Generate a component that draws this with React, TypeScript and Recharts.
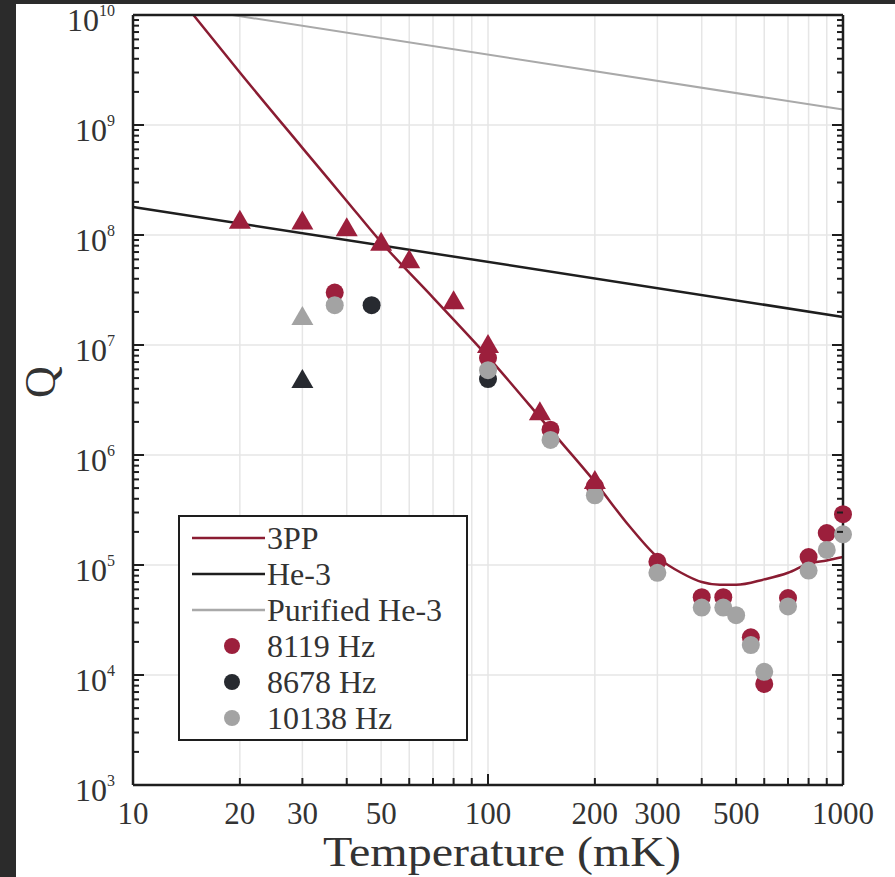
import {
  CartesianGrid,
  ComposedChart,
  Line,
  ReferenceLine,
  Scatter,
  XAxis,
  YAxis
} from 'recharts'

// --- data (temperature in mK, quality factor Q) ---
const PP3_T = [14.8, 20, 30, 40, 50, 70, 100, 150, 200, 250, 300, 350, 400, 450, 500, 600, 700, 800, 900, 1000]
const PP3_Q = [1e10, 3.0e9, 6.2e8, 2.04e8, 8.6e7, 2.7e7, 7.8e6, 1.69e6, 5.7e5, 2.26e5, 1.18e5, 8.5e4, 7.0e4, 6.6e4, 6.6e4, 7.4e4, 8.5e4, 1.03e5, 1.1e5, 1.18e5]

const HE3_T = [10, 1000]
const HE3_Q = [1.8e8, 1.8e7]

const PURE_T = [19.05, 1000]
const PURE_Q = [1e10, 1.38e9]

const F8119_T = [37, 100, 150, 200, 300, 400, 460, 550, 600, 700, 800, 900, 1000]
const F8119_Q = [3.0e7, 7.6e6, 1.7e6, 5.2e5, 1.07e5, 5.1e4, 5.1e4, 2.2e4, 8.3e3, 5.0e4, 1.18e5, 1.95e5, 2.9e5]

const F8678_T = [47, 100]
const F8678_Q = [2.3e7, 4.9e6]

const F10138_T = [37, 100, 150, 200, 300, 400, 460, 500, 550, 600, 700, 800, 900, 1000]
const F10138_Q = [2.3e7, 5.9e6, 1.37e6, 4.3e5, 8.5e4, 4.1e4, 4.1e4, 3.5e4, 1.87e4, 1.07e4, 4.2e4, 8.9e4, 1.37e5, 1.9e5]

const TRI_RED_T = [20, 30, 40, 50, 60, 80, 100, 140, 200]
const TRI_RED_Q = [1.35e8, 1.33e8, 1.15e8, 8.5e7, 5.9e7, 2.5e7, 1.0e7, 2.45e6, 5.8e5]
const TRI_DARK_T = [30]
const TRI_DARK_Q = [4.8e6]
const TRI_GRAY_T = [30]
const TRI_GRAY_Q = [1.8e7]

// --- axes ---
const X_TICKS = [10, 20, 30, 40, 50, 60, 70, 80, 90, 100, 200, 300, 400, 500, 600, 700, 800, 900, 1000]
const X_LABELS = [10, 20, 30, 50, 100, 200, 300, 500, 1000]
const Y_EXPONENTS = [3, 4, 5, 6, 7, 8, 9, 10]
const Y_TICKS = Y_EXPONENTS.flatMap((e) =>
  e === 10 ? [1e10] : [1, 2, 3, 4, 5, 6, 7, 8, 9].map((m) => m * 10 ** e)
)
const Y_GRID = [1e4, 1e5, 1e6, 1e7, 1e8, 1e9]

const pts = (t: number[], q: number[]) => t.map((v, i) => ({ t: v, q: q[i] }))

const RED = '#9c1f3c'
const RED_LINE = '#8a1c32'
const DARK = '#272a30'
const GRAY = '#a3a3a3'
const INK = '#1e1e1e'
const FONT = '"Liberation Serif", "Times New Roman", serif'

const isDecade = (v: number) => Math.abs(Math.log10(v) - Math.round(Math.log10(v))) < 1e-9

function BottomTick({ x, y, payload }: any) {
  const v = payload.value
  return (
    <g>
      <line x1={x} x2={x} y1={y} y2={y - (isDecade(v) ? 11 : 7)} stroke={INK} strokeWidth={2} />
      {X_LABELS.includes(v) && (
        <text x={x} y={y + 39} textAnchor="middle" fontSize={31} fontFamily={FONT} fill="#333">
          {v}
        </text>
      )}
    </g>
  )
}

function TopTick({ x, y, payload }: any) {
  return <line x1={x} x2={x} y1={y} y2={y + (isDecade(payload.value) ? 11 : 7)} stroke={INK} strokeWidth={2} />
}

function LeftTick({ x, y, payload }: any) {
  const v = payload.value
  const major = isDecade(v)
  return (
    <g>
      <line x1={x} x2={x + (major ? 11 : 6)} y1={y} y2={y} stroke={INK} strokeWidth={2} />
      {major && (
        <text x={x - 18} y={y + 16} textAnchor="end" fontSize={32} fontFamily={FONT} fill="#333">
          10
          <tspan dy={-15} fontSize={16}>
            {Math.round(Math.log10(v))}
          </tspan>
        </text>
      )}
    </g>
  )
}

function RightTick({ x, y, payload }: any) {
  return <line x1={x} x2={x - (isDecade(payload.value) ? 11 : 6)} y1={y} y2={y} stroke={INK} strokeWidth={2} />
}

const circle = (fill: string) => (p: any) => <circle cx={p.cx} cy={p.cy} r={9} fill={fill} />
const triangle = (fill: string) => (p: any) => (
  <path d={`M${p.cx},${p.cy - 11} L${p.cx - 11},${p.cy + 8} L${p.cx + 11},${p.cy + 8} Z`} fill={fill} />
)

const LEGEND = [
  { label: '3PP', kind: 'line', color: RED_LINE },
  { label: 'He-3', kind: 'line', color: INK },
  { label: 'Purified He-3', kind: 'line', color: '#a9a9a9' },
  { label: '8119 Hz', kind: 'dot', color: RED },
  { label: '8678 Hz', kind: 'dot', color: DARK },
  { label: '10138 Hz', kind: 'dot', color: GRAY }
]

function LegendBox() {
  return (
    <div
      style={{
        position: 'absolute',
        left: 178,
        top: 515,
        width: 290,
        height: 226,
        boxSizing: 'border-box',
        border: `2px solid ${INK}`,
        background: '#fff',
        fontFamily: FONT
      }}
    >
      {LEGEND.map((item, i) => (
        <div
          key={item.label}
          style={{ position: 'absolute', left: 0, top: 3 + 36 * i, height: 36, width: '100%' }}
        >
          <svg width={86} height={36} style={{ position: 'absolute', left: 0, top: 0 }}>
            {item.kind === 'line' ? (
              <line x1={12} x2={85} y1={18} y2={18} stroke={item.color} strokeWidth={2.5} />
            ) : (
              <circle cx={52} cy={18} r={8} fill={item.color} />
            )}
          </svg>
          <span
            style={{
              position: 'absolute',
              left: 87,
              top: 0,
              lineHeight: '36px',
              fontSize: 32,
              color: '#333',
              whiteSpace: 'nowrap'
            }}
          >
            {item.label}
          </span>
        </div>
      ))}
    </div>
  )
}

export default function App() {
  return (
    <div style={{ position: 'absolute', left: 0, top: 0, width: 895, height: 877, background: '#2b2b2b', overflow: 'hidden' }}>
      <div style={{ position: 'absolute', left: 16, top: 4, right: 0, bottom: 0, background: '#fff' }} />
      <div style={{ position: 'absolute', left: 0, top: 0 }}>
        <ComposedChart width={895} height={877} margin={{ top: 13, right: 50, bottom: 12, left: 20 }}>
          <CartesianGrid horizontal={false} stroke="#e6e6e6" strokeWidth={1.5} />
          {Y_GRID.map((v) => (
            <ReferenceLine key={v} y={v} stroke="#e6e6e6" strokeWidth={1.5} />
          ))}
          <XAxis
            dataKey="t"
            type="number"
            scale="log"
            domain={[10, 1000]}
            ticks={X_TICKS}
            interval={0}
            tickSize={0}
            tickMargin={0}
            tickLine={false}
            tick={(p: any) => <BottomTick {...p} />}
            axisLine={{ stroke: INK, strokeWidth: 2.5 }}
            height={80}
            label={{
              content: ({ viewBox }: any) => (
                <text
                  x={viewBox.x + viewBox.width / 2 + 14}
                  y={viewBox.y + 81}
                  textAnchor="middle"
                  fontSize={42}
                  textLength={358}
                  lengthAdjust="spacingAndGlyphs"
                  fontFamily={FONT}
                  fill="#333"
                >
                  Temperature (mK)
                </text>
              )
            }}
          />
          <XAxis
            xAxisId="top"
            orientation="top"
            type="number"
            scale="log"
            domain={[10, 1000]}
            allowDataOverflow
            ticks={X_TICKS}
            interval={0}
            tickSize={0}
            tickMargin={0}
            tickLine={false}
            tick={(p: any) => <TopTick {...p} />}
            axisLine={{ stroke: INK, strokeWidth: 2.5 }}
            height={2}
          />
          <YAxis
            dataKey="q"
            type="number"
            scale="log"
            domain={[1e3, 1e10]}
            ticks={Y_TICKS}
            interval={0}
            tickSize={0}
            tickMargin={0}
            tickLine={false}
            tick={(p: any) => <LeftTick {...p} />}
            axisLine={{ stroke: INK, strokeWidth: 2.5 }}
            width={113}
            label={{
              content: ({ viewBox }: any) => {
                const cx = viewBox.x + 20
                const cy = viewBox.y + viewBox.height / 2 - 18
                return (
                  <text
                    x={cx}
                    y={cy}
                    transform={`rotate(-90, ${cx}, ${cy})`}
                    textAnchor="middle"
                    dominantBaseline="central"
                    fontSize={44}
                    fontFamily={FONT}
                    fill="#333"
                  >
                    Q
                  </text>
                )
              }
            }}
          />
          <YAxis
            yAxisId="right"
            orientation="right"
            type="number"
            scale="log"
            domain={[1e3, 1e10]}
            allowDataOverflow
            ticks={Y_TICKS}
            interval={0}
            tickSize={0}
            tickMargin={0}
            tickLine={false}
            tick={(p: any) => <RightTick {...p} />}
            axisLine={{ stroke: INK, strokeWidth: 2.5 }}
            width={2}
          />
          <Line
            data={pts(PURE_T, PURE_Q)}
            dataKey="q"
            stroke="#a9a9a9"
            strokeWidth={2}
            dot={false}
            isAnimationActive={false}
          />
          <Line
            data={pts(HE3_T, HE3_Q)}
            dataKey="q"
            stroke={INK}
            strokeWidth={2.5}
            dot={false}
            isAnimationActive={false}
          />
          <Line
            data={pts(PP3_T, PP3_Q)}
            type="monotone"
            dataKey="q"
            stroke={RED_LINE}
            strokeWidth={2.5}
            dot={false}
            isAnimationActive={false}
          />
          <Scatter data={pts(F8119_T, F8119_Q)} shape={circle(RED)} isAnimationActive={false} />
          <Scatter data={pts(F8678_T, F8678_Q)} shape={circle(DARK)} isAnimationActive={false} />
          <Scatter data={pts(F10138_T, F10138_Q)} shape={circle(GRAY)} isAnimationActive={false} />
          <Scatter data={pts(TRI_RED_T, TRI_RED_Q)} shape={triangle(RED)} isAnimationActive={false} />
          <Scatter data={pts(TRI_DARK_T, TRI_DARK_Q)} shape={triangle(DARK)} isAnimationActive={false} />
          <Scatter data={pts(TRI_GRAY_T, TRI_GRAY_Q)} shape={triangle(GRAY)} isAnimationActive={false} />
        </ComposedChart>
      </div>
      <LegendBox />
    </div>
  )
}
